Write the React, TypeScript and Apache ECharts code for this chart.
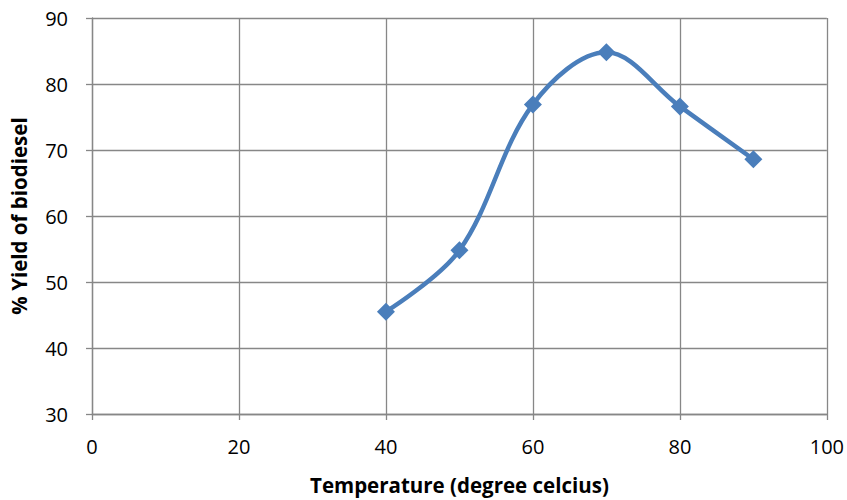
import React, { useEffect, useRef } from "react";
import * as echarts from "echarts";

const temperatures = [40, 50, 60, 70, 80, 90];
const yields = [45.5, 54.8, 76.9, 84.8, 76.6, 68.6];
const xTicks = { min: 0, max: 100, interval: 20 };
const yTicks = { min: 30, max: 90, interval: 10 };
const xTitle = "Temperature (degree celcius)";
const yTitle = "% Yield of biodiesel";

const FONT = "'Open Sans', 'Noto Sans', sans-serif";
const GRID_COLOR = "#878787";

export default function App() {
  const ref = useRef<HTMLDivElement>(null);
  useEffect(() => {
    document.body.style.margin = "0";
    const chart = echarts.init(ref.current!, undefined, { renderer: "svg" });
    chart.setOption({
      animation: false,
      backgroundColor: "#ffffff",
      grid: { left: 91, right: 19, top: 18, bottom: 84 },
      xAxis: {
        type: "value",
        min: xTicks.min,
        max: xTicks.max,
        interval: xTicks.interval,
        name: xTitle,
        nameLocation: "middle",
        nameGap: 60,
        nameTextStyle: { fontFamily: FONT, fontSize: 20.5, fontWeight: "bold", color: "#000" },
        axisLine: { show: true, lineStyle: { color: GRID_COLOR, width: 1.3 } },
        axisTick: { show: true, length: 6, lineStyle: { color: GRID_COLOR, width: 1.3 } },
        axisLabel: { fontFamily: FONT, fontSize: 20, color: "#000", margin: 22 },
        splitLine: { show: true, lineStyle: { color: GRID_COLOR, width: 1.3 } },
      },
      yAxis: {
        type: "value",
        min: yTicks.min,
        max: yTicks.max,
        interval: yTicks.interval,
        name: yTitle,
        nameLocation: "middle",
        nameGap: 63,
        nameTextStyle: { fontFamily: FONT, fontSize: 20.5, fontWeight: "bold", color: "#000" },
        axisLine: { show: true, lineStyle: { color: GRID_COLOR, width: 1.3 } },
        axisTick: { show: true, length: 6, lineStyle: { color: GRID_COLOR, width: 1.3 } },
        axisLabel: { fontFamily: FONT, fontSize: 20, color: "#000", margin: 24 },
        splitLine: { show: true, lineStyle: { color: GRID_COLOR, width: 1.3 } },
      },
      series: [
        {
          type: "line",
          data: temperatures.map((t, i) => [t, yields[i]]),
          smooth: 0.35,
          symbol: "diamond",
          symbolSize: 18,
          lineStyle: { color: "#4A7EBB", width: 4.5 },
          itemStyle: { color: "#4A7EBB" },
        },
      ],
    });
    return () => chart.dispose();
  }, []);
  return <div ref={ref} style={{ width: 847, height: 500 }} />;
}
